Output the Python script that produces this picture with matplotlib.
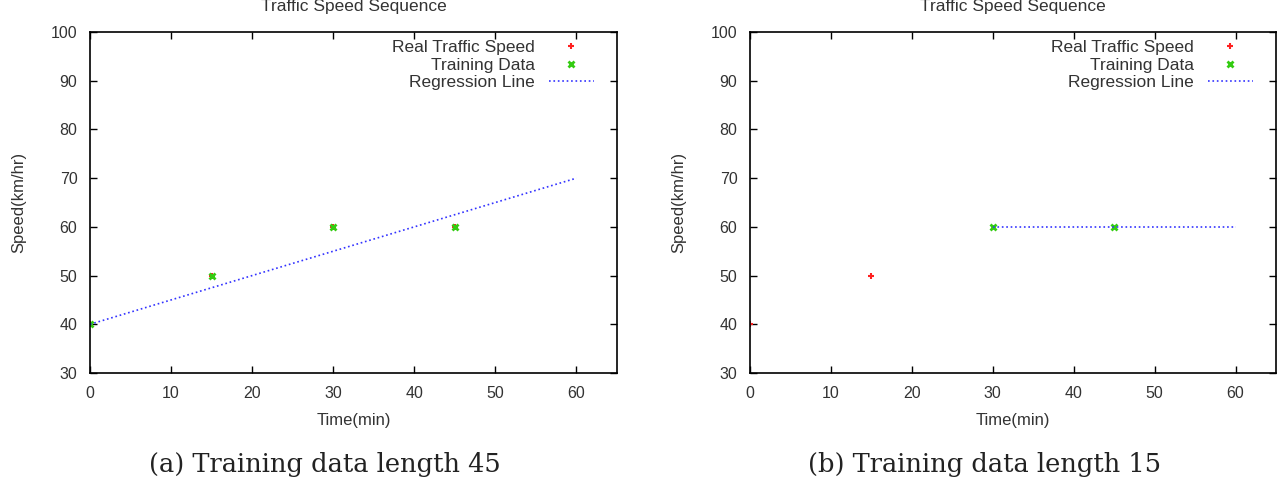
import matplotlib
matplotlib.use("Agg")
import matplotlib.pyplot as plt

plt.rcParams['font.family'] = ['Liberation Sans', 'DejaVu Sans']

# data
time_real = [0, 15, 30, 45]
speed_real = [40, 50, 60, 60]

# panel (a): training data length 45
train_t_a = [0, 15, 30, 45]
train_s_a = [40, 50, 60, 60]
reg_t_a = [0, 60]
reg_s_a = [40, 70]

# panel (b): training data length 15
real_t_b = [0, 15]
real_s_b = [40, 50]
train_t_b = [30, 45]
train_s_b = [60, 60]
reg_t_b = [30, 60]
reg_s_b = [60, 60]

xticks = [0, 10, 20, 30, 40, 50, 60]
yticks = [30, 40, 50, 60, 70, 80, 90, 100]
captions = ["(a) Training data length 45", "(b) Training data length 15"]

fig = plt.figure(figsize=(12.88, 4.87), dpi=100)
ax_a = fig.add_axes([90 / 1288, 1 - 373 / 487, 527 / 1288, 341 / 487])
ax_b = fig.add_axes([750 / 1288, 1 - 373 / 487, 526 / 1288, 341 / 487])

txt = '#333333'


def draw_panel(ax, rt, rs, tt, ts, lt, ls, caption):
    ax.plot(rt, rs, linestyle='none', marker='+', color='#ff2020',
            markersize=4, markeredgewidth=1.5, label='Real Traffic Speed')
    ax.plot(tt, ts, linestyle='none', marker='x', color='#33cc11',
            markersize=4, markeredgewidth=2, label='Training Data')
    ax.plot(lt, ls, linestyle=':', color='#3333ff', linewidth=1.2,
            label='Regression Line')
    ax.set_xlim(0, 65)
    ax.set_ylim(30, 100)
    ax.set_xticks(xticks)
    ax.set_yticks(yticks)
    ax.tick_params(direction='in', top=True, right=True, length=5,
                   width=1, labelsize=11.5, pad=9, labelcolor=txt)
    for sp in ax.spines.values():
        sp.set_linewidth(1.2)
    ax.set_xlabel('Time(min)', fontsize=12, labelpad=9, color=txt)
    ax.set_ylabel('Speed(km/hr)', fontsize=12, labelpad=18, color=txt)
    ax.set_title('Traffic Speed Sequence', fontsize=12.5, pad=15, color=txt)
    ax.legend(loc='upper right', frameon=False, markerfirst=False,
              fontsize=12.5, handlelength=2.6, labelspacing=0.15,
              borderaxespad=0.05, bbox_to_anchor=(0.971, 1.0),
              labelcolor=txt)
    ax.text(0.445, -0.268, caption, transform=ax.transAxes, ha='center',
            va='center', fontsize=18.5, family=['DejaVu Serif'],
            color='#222222')


draw_panel(ax_a, time_real, speed_real, train_t_a, train_s_a,
           reg_t_a, reg_s_a, captions[0])
draw_panel(ax_b, real_t_b, real_s_b, train_t_b, train_s_b,
           reg_t_b, reg_s_b, captions[1])

fig.savefig('out.png', dpi=100)
